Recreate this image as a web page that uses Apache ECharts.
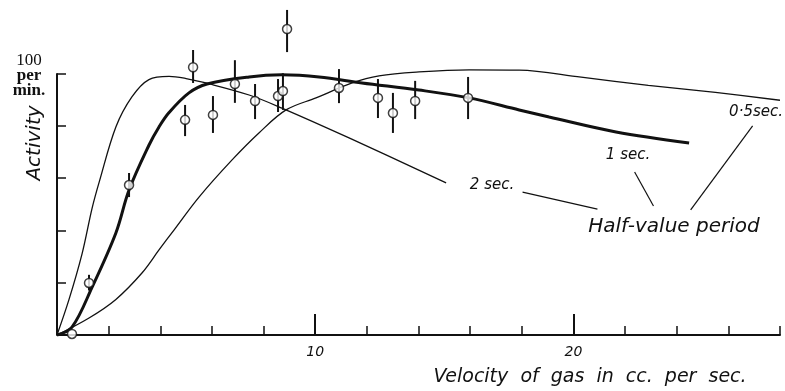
<!DOCTYPE html>
<html>
<head>
<meta charset="utf-8">
<script src="https://cdn.jsdelivr.net/npm/echarts@6/dist/echarts.min.js"></script>
<style>
  html, body { margin: 0; padding: 0; background: #fff; }
  #main { width: 785px; height: 391px; }
</style>
</head>
<body>
<div id="main"></div>
<script>
var chart = echarts.init(document.getElementById('main'));

// measured activity (per min.) against gas velocity (cc. per sec.)
var pointX = [0.58, 1.24, 2.79, 4.96, 5.27, 6.04, 6.89, 7.67, 8.56, 8.75, 8.91, 10.92, 12.43, 13.01, 13.87, 15.92];
var pointY = [0.4, 19.9, 57.3, 82.2, 102.3, 84.1, 95.9, 89.4, 91.3, 93.2, 116.9, 94.4, 90.6, 84.8, 89.4, 90.6];
var errLow = [null, 17, 52.7, 76, 96.3, 77.2, 88.7, 82.5, 85.2, 86, 108.1, 88.6, 82.9, 77.2, 82.5, 82.5];
var errHigh = [null, 23, 61.9, 87.9, 108.9, 91.3, 105, 95.9, 97.8, 100, 124.2, 101.6, 97.8, 92.5, 97.1, 98.6];

// theoretical curves, half-value period 2 sec., 1 sec., 0.5 sec.
var curve2sX = [0, 0.46, 0.97, 1.36, 1.65, 2.28, 2.9, 3.56, 4.34, 5.0, 5.77, 7.44, 8.71, 11.31, 15.07];
var curve2sY = [0, 13.4, 31, 48.5, 59, 79.5, 91, 97.6, 98.8, 98.0, 96.3, 91.7, 86.7, 75.3, 58.1];
var curve1sX = [0, 0.58, 1.36, 2.28, 2.79, 3.56, 3.95, 4.34, 5.11, 5.81, 7.44, 8.71, 10.15, 11.81, 14.02, 15.96, 17.9, 19.06, 21.65, 24.48];
var curve1sY = [0, 3, 18.3, 39, 55.4, 72.5, 79.5, 85, 92.5, 95.9, 98.6, 99.4, 98.6, 96.3, 93.6, 90.6, 86, 83.3, 77.6, 73.4];
var curve05sX = [0, 1.24, 2.28, 3.29, 3.95, 4.53, 5.5, 6.78, 7.82, 8.87, 10.03, 11.43, 12.47, 14.02, 15.96, 17.9, 20.3, 22.9, 25.5, 28];
var curve05sY = [0, 6.5, 13.6, 23.7, 32.5, 40.1, 52.7, 66.9, 77.2, 86, 90.6, 96.3, 99, 100.5, 101.3, 101.2, 98.5, 95.4, 92.7, 89.7];

// leader lines from the curve labels
var leader2s = [[18.03, 54.6], [20.93, 48.1]];
var leader1s = [[22.37, 62.3], [23.1, 49.3]];
var leader05s = [[26.94, 79.9], [24.54, 47.8]];

// axes
var yAxisLine = [[0, 0], [0, 100]];
var yTicks = [0, 20, 40, 60, 80, 100];
var xMinorTicks = [0, 2, 4, 6, 8, 10, 12, 14, 16, 18, 20, 22, 24, 26, 28];
var xMajorTicks = [10, 20];
var xLabels = [10, 20];

function zip(xs, ys) {
  return xs.map(function (x, i) { return [x, ys[i]]; });
}

var ink = '#111';
var handFont = 'DejaVu Sans';

function curve(name, xs, ys, width) {
  return {
    name: name,
    type: 'line',
    smooth: 0.35,
    symbol: 'none',
    clip: false,
    lineStyle: { color: ink, width: width },
    data: zip(xs, ys),
    z: 2
  };
}

function leader(data) {
  return {
    type: 'line',
    symbol: 'none',
    clip: false,
    lineStyle: { color: ink, width: 1.2 },
    data: data,
    z: 2
  };
}

var errData = [];
pointX.forEach(function (x, i) {
  if (errLow[i] != null) errData.push([x, errLow[i], errHigh[i]]);
});

option = {
  animation: false,
  backgroundColor: '#fff',
  grid: { left: 57, right: 5, top: 0, bottom: 56 },
  xAxis: [
    {
      type: 'value',
      min: 0,
      max: 28,
      interval: 2,
      position: 'bottom',
      splitLine: { show: false },
      axisLine: { lineStyle: { color: ink, width: 2 } },
      axisTick: { inside: true, length: 9, customValues: xMinorTicks, lineStyle: { color: ink, width: 1.5 } },
      axisLabel: {
        customValues: xLabels,
        margin: 10,
        color: ink,
        fontFamily: handFont,
        fontStyle: 'italic',
        fontSize: 14
      }
    },
    {
      type: 'value',
      min: 0,
      max: 28,
      position: 'bottom',
      offset: 0,
      splitLine: { show: false },
      axisLine: { show: false },
      axisLabel: { show: false },
      axisTick: { inside: true, length: 21, customValues: xMajorTicks, lineStyle: { color: ink, width: 2 } }
    }
  ],
  yAxis: {
    type: 'value',
    min: 0,
    max: 128,
    splitLine: { show: false },
    axisLine: { show: false },
    axisTick: { show: true, inside: true, length: 9, customValues: yTicks, lineStyle: { color: ink, width: 1.5 } },
    axisLabel: { show: false }
  },
  series: [
    {
      type: 'line',
      symbol: 'none',
      clip: false,
      lineStyle: { color: ink, width: 2 },
      data: yAxisLine,
      z: 2
    },
    curve('2 sec.', curve2sX, curve2sY, 1.3),
    curve('1 sec.', curve1sX, curve1sY, 3),
    curve('0.5 sec.', curve05sX, curve05sY, 1.3),
    leader(leader2s),
    leader(leader1s),
    leader(leader05s),
    {
      type: 'custom',
      clip: false,
      encode: { x: 0, y: [1, 2] },
      renderItem: function (params, api) {
        var p1 = api.coord([api.value(0), api.value(1)]);
        var p2 = api.coord([api.value(0), api.value(2)]);
        return {
          type: 'line',
          shape: { x1: p1[0], y1: p1[1], x2: p2[0], y2: p2[1] },
          style: { stroke: ink, lineWidth: 2 }
        };
      },
      data: errData,
      z: 3
    },
    {
      type: 'scatter',
      symbol: 'circle',
      symbolSize: 9,
      clip: false,
      itemStyle: { color: '#fff', borderColor: ink, borderWidth: 1.5 },
      data: zip(pointX, pointY),
      z: 4
    }
  ],
  graphic: [
    {
      type: 'text',
      x: 29, y: 76,
      style: {
        text: '{a|100}\n{b|per}\n{b|min.}',
        align: 'center',
        verticalAlign: 'middle',
        rich: {
          a: { fontFamily: 'Liberation Serif', fontSize: 17, lineHeight: 15, fill: ink },
          b: { fontFamily: 'Liberation Serif', fontSize: 17, fontWeight: 'bold', lineHeight: 15, fill: ink }
        }
      }
    },
    {
      type: 'text',
      x: 35, y: 143,
      rotation: Math.PI / 2,
      style: { text: 'Activity', align: 'center', verticalAlign: 'middle', fill: ink, font: 'italic 20px "DejaVu Sans"' }
    },
    {
      type: 'text',
      x: 590, y: 377,
      style: { text: 'Velocity  of  gas  in  cc.  per  sec.', align: 'center', verticalAlign: 'middle', fill: ink, font: 'italic 19px "DejaVu Sans"' }
    },
    {
      type: 'text',
      x: 783, y: 112,
      style: { text: '0·5sec.', align: 'right', verticalAlign: 'middle', fill: ink, font: 'italic 15px "DejaVu Sans"' }
    },
    {
      type: 'text',
      x: 628, y: 155,
      style: { text: '1 sec.', align: 'center', verticalAlign: 'middle', fill: ink, font: 'italic 15px "DejaVu Sans"' }
    },
    {
      type: 'text',
      x: 492, y: 185,
      style: { text: '2 sec.', align: 'center', verticalAlign: 'middle', fill: ink, font: 'italic 15px "DejaVu Sans"' }
    },
    {
      type: 'text',
      x: 674, y: 227,
      style: { text: 'Half-value period', align: 'center', verticalAlign: 'middle', fill: ink, font: 'italic 20px "DejaVu Sans"' }
    }
  ]
};

option && chart.setOption(option);
</script>
</body>
</html>
